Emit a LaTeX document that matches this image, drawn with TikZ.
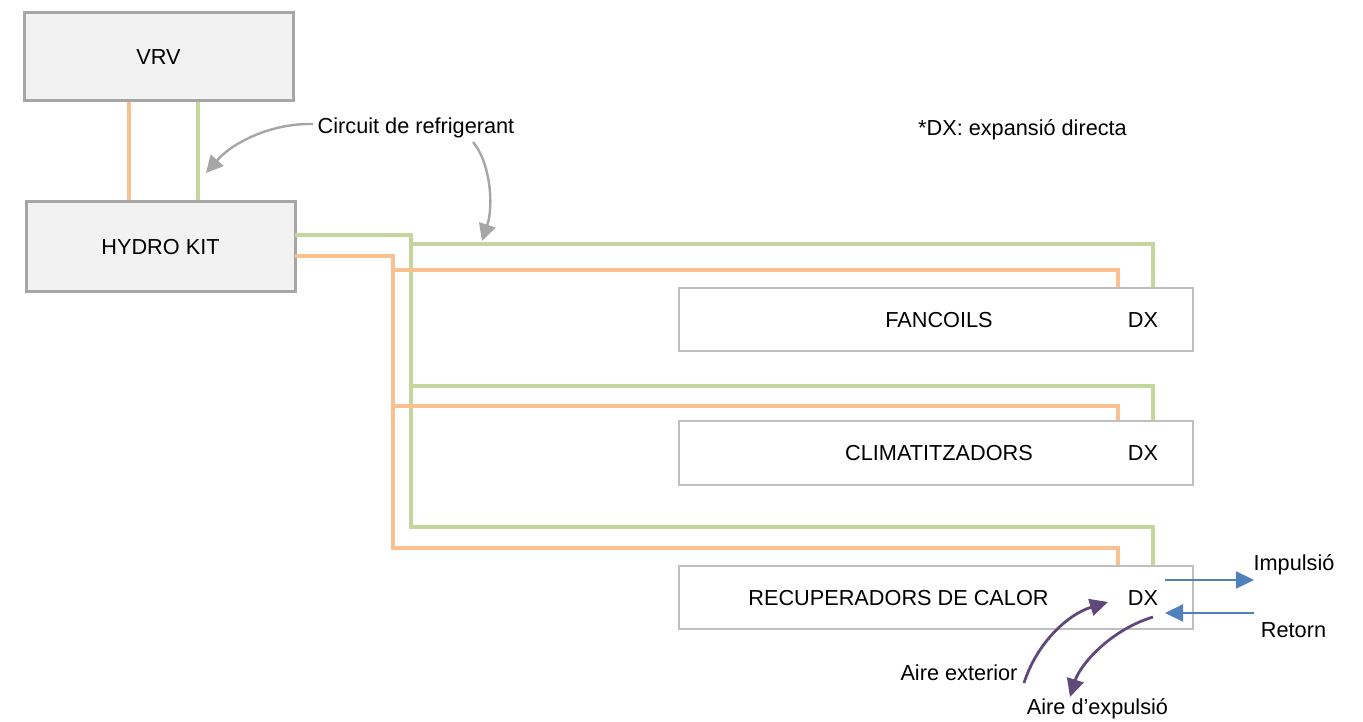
\documentclass[tikz,border=0pt]{standalone}
\usepackage{fontspec}
\setmainfont{Liberation Sans}
\usetikzlibrary{arrows.meta}
\definecolor{orl}{HTML}{FAC090}
\definecolor{grl}{HTML}{C3D69B}
\definecolor{bxg}{HTML}{A6A6A6}
\definecolor{bxl}{HTML}{BFBFBF}
\definecolor{fillg}{HTML}{F2F2F2}
\definecolor{bluea}{HTML}{4F81BD}
\definecolor{purpa}{HTML}{5F497A}
\definecolor{greya}{HTML}{A6A6A6}
\tikzset{
  topbox/.style={draw=bxg, fill=fillg, line width=3pt, minimum width=269pt, minimum height=88pt, inner sep=0, anchor=center},
  unitbox/.style={draw=bxl, fill=white, line width=2.5pt, minimum width=514pt, minimum height=63pt, inner sep=0, anchor=center},
  lbl/.style={inner sep=0, anchor=center, font=\fontsize{21.7}{26}\selectfont},
  oline/.style={draw=orl, line width=3.8pt},
  gline/.style={draw=grl, line width=3.8pt},
  grayarrow/.style={draw=greya, line width=2.4pt, -{Triangle[length=17pt,width=17pt]}},
  bluearrow/.style={draw=bluea, line width=2.2pt, -{Triangle[length=18pt,width=17pt]}},
  purparrow/.style={draw=purpa, line width=2.8pt, -{Triangle[length=18pt,width=17pt]}},
}
\begin{document}
\begin{tikzpicture}[x=1pt,y=-1pt]
\useasboundingbox (0,0) rectangle (1363,722);
% boxes
\node[topbox] (vrv) at (158.5,57) {};
\node[topbox, minimum height=89pt] (hydro) at (160.5,246.5) {};
\node[unitbox] (fan) at (936,319.5) {};
\node[unitbox, minimum height=64pt] (clim) at (936,453) {};
\node[unitbox] (rec) at (936,597.5) {};
% labels
\node[lbl] (tvrv) at (158.5,57) {VRV};
\node[lbl] (thydro) at (160.5,247) {HYDRO KIT};
\node[lbl] (tfan) at (939,320) {FANCOILS};
\node[lbl] (tclim) at (939,453) {CLIMATITZADORS};
\node[lbl] (trec) at (898.5,598) {RECUPERADORS DE CALOR};
\node[lbl] (dx1) at (1143,320) {DX};
\node[lbl] (dx2) at (1143,453) {DX};
\node[lbl] (dx3) at (1143,598) {DX};
\node[lbl] (circ) at (416,128) {Circuit de refrigerant};
\node[lbl] (note) at (1022.5,130) {*DX: expansió directa};
\node[lbl] (impuls) at (1294,565) {Impulsió};
\node[lbl] (retorn) at (1293.5,630) {Retorn};
\node[lbl] (aext) at (959,673) {Aire exterior};
\node[lbl] (aexp) at (1097.5,709) {Aire d’expulsió};
% helper coordinates
\coordinate (xo) at (129,0);
\coordinate (xg) at (198,0);
\coordinate (gt) at (411,0);
\coordinate (ot) at (393,0);
\coordinate (gd) at (1153,0);
\coordinate (od) at (1118,0);
% VRV - HYDRO KIT
\draw[oline] (vrv.south -| xo) -- (hydro.north -| xo);
\draw[gline] (vrv.south -| xg) -- (hydro.north -| xg);
% green circuit
\draw[gline] (295,235) -- (411,235) -- (411,527) -- (1153,527) -- (rec.north -| gd);
\draw[gline] (411,244) -- (1153,244) -- (fan.north -| gd);
\draw[gline] (411,386) -- (1153,386) -- (clim.north -| gd);
% orange circuit
\draw[oline] (295,256) -- (393,256) -- (393,548) -- (1118,548) -- (rec.north -| od);
\draw[oline] (393,270) -- (1118,270) -- (fan.north -| od);
\draw[oline] (393,406) -- (1118,406) -- (clim.north -| od);
% grey callout arrows
\coordinate (c1s) at (313,124);
\coordinate (c1e) at (206,173);
\coordinate (c2s) at (473,142);
\coordinate (c2e) at (482,241);
\draw[grayarrow] (c1s) .. controls (275,123) and (235,140) .. (c1e);
\draw[grayarrow] (c2s) .. controls (490,162) and (494,205) .. (c2e);
% air arrows
\coordinate (imps) at (1165,580);
\coordinate (impe) at (1254,580);
\coordinate (rets) at (1254,613);
\coordinate (rete) at (1165,613);
\draw[bluearrow] (imps) -- (impe);
\draw[bluearrow] (rets) -- (rete);
\coordinate (aexs) at (1024,683);
\coordinate (aexe) at (1108,602);
\coordinate (axps) at (1153,617);
\coordinate (axpe) at (1070,697);
\draw[purparrow] (aexs) .. controls (1036,645) and (1066,615) .. (aexe);
\draw[purparrow] (axps) .. controls (1110,630) and (1080,665) .. (axpe);
\end{tikzpicture}
\end{document}
